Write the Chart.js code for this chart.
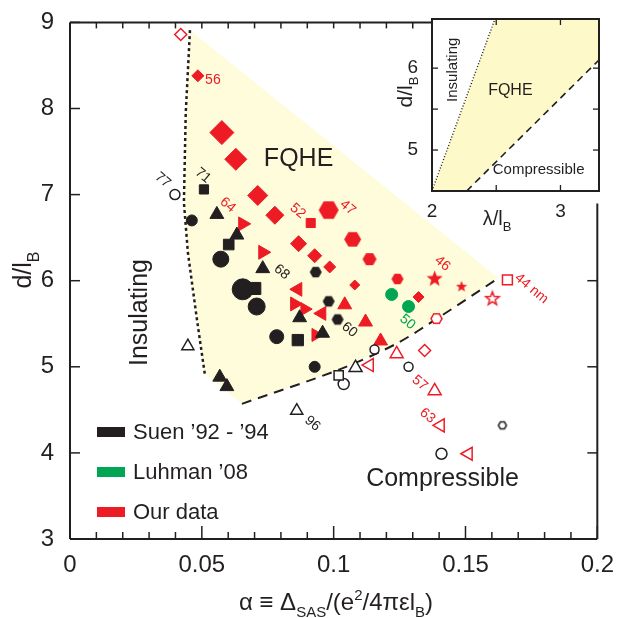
<!DOCTYPE html>
<html>
<head>
<meta charset="utf-8">
<script src="https://cdn.jsdelivr.net/npm/chart.js@4.4.0/dist/chart.umd.min.js"></script>
<style>
  html, body { margin: 0; padding: 0; background: #fff; }
  #wrap { position: relative; width: 618px; height: 618px; }
  #mainChart { position: absolute; left: 0; top: 0; }
  #insetChart { position: absolute; left: 390px; top: 0; }
</style>
</head>
<body>
<div id="wrap">
  <canvas id="mainChart" width="618" height="618"></canvas>
  <canvas id="insetChart" width="228" height="240"></canvas>
</div>
<script>
const FONT = "'Liberation Sans', Arial, Helvetica, sans-serif";
const INK = '#231f20';
const RED = '#ed1c24';
const GREEN = '#00a651';

// ---- main panel: data ----
// Suen '92 - '94 (black)
const suenX = [0.0462, 0.0572, 0.0655, 0.0708, 0.0784, 0.0928,
               0.0508, 0.0602, 0.0701, 0.0864,
               0.0557, 0.0633, 0.0731, 0.0871, 0.0958, 0.0568, 0.0595,
               0.0932, 0.0981, 0.1015,
               0.0398, 0.1038, 0.1155, 0.1284, 0.1409,
               0.1640, 0.0447, 0.0860, 0.1083, 0.1019];
const suenY = [6.70, 6.25, 5.90, 5.70, 5.35, 5.00,
               7.06, 6.42, 5.91, 5.31,
               6.77, 6.53, 6.14, 5.57, 5.39, 4.88, 4.77,
               6.10, 5.76, 5.55,
               7.00, 4.80, 5.20, 5.00, 3.99,
               4.32, 5.24, 4.49, 4.99, 4.90];

// Luhman '08 (green)
const luhmanX = [0.1220, 0.1284];
const luhmanY = [5.84, 5.70];

// Our data (red)
const oursX = [0.0420, 0.0485, 0.0576, 0.0629, 0.0712, 0.0777, 0.0867, 0.0928, 0.0985, 0.1080, 0.1322,
               0.0913,
               0.0981, 0.1072, 0.1136, 0.1242,
               0.1383, 0.1485,
               0.0655, 0.0731, 0.0852, 0.0890, 0.0932,
               0.0864, 0.0955,
               0.1042, 0.1121, 0.1178,
               0.1345, 0.1239, 0.1136, 0.1383, 0.1405, 0.1511, 0.1602, 0.1659, 0.1390];
const oursY = [8.86, 8.38, 7.72, 7.41, 6.99, 6.76, 6.43, 6.29, 6.16, 5.95, 5.81,
               6.67,
               6.82, 6.48, 6.25, 6.02,
               6.02, 5.93,
               6.66, 6.33, 5.73, 5.67, 5.37,
               5.90, 5.62,
               5.72, 5.52, 5.30,
               5.19, 5.15, 5.02, 4.72, 4.32, 3.99, 5.79, 6.01, 5.56];

// phase boundaries
const insulatingX = [0.0455, 0.0439, 0.0432, 0.0447, 0.0481, 0.0511];
const insulatingY = [8.91, 7.95, 6.91, 6.33, 5.56, 4.92];
const compressibleX = [0.0652, 0.1023, 0.1239, 0.1402, 0.1625];
const compressibleY = [4.57, 4.97, 5.27, 5.58, 6.03];

// sample thickness tags
const tagText = ['56', '77', '71', '64', '52', '47', '68', '60', '46', '50', '44 nm', '57', '63', '96'];
const tagX = [0.0542, 0.0352, 0.0504, 0.0598, 0.0864, 0.1053, 0.0803, 0.1060, 0.1413, 0.1280, 0.1750, 0.1326, 0.1356, 0.0920];
const tagY = [8.33, 7.17, 7.22, 6.88, 6.81, 6.85, 6.10, 5.43, 6.20, 5.52, 5.91, 4.81, 4.43, 4.34];

// ---- inset: data ----
const insetXTicks = [2, 2.5, 3];
const insetYTicks = [5, 5.5, 6];
const insetDottedX = [2.0, 2.49];
const insetDottedY = [4.5, 6.6];
const insetDashedX = [2.27, 3.3];
const insetDashedY = [4.5, 6.1];

// ---- marker styles (shape, radius, open) ----
const suenShape = ['circle', 'circle', 'circle', 'circle', 'circle', 'circle',
                   'square', 'square', 'square', 'square',
                   'triangle', 'triangle', 'triangle', 'triangle', 'triangle', 'triangle', 'triangle',
                   'hexagon', 'hexagon', 'hexagon',
                   'circle', 'circle', 'circle', 'circle', 'circle',
                   'hexagon', 'triangle', 'triangle', 'triangle', 'square'];
const suenSize = [5.5, 8, 10.5, 8.5, 7, 5.5, 6.5, 7.5, 8.5, 8,
                  8, 8, 8, 8, 8, 8, 8, 6, 6, 6,
                  5, 5.5, 4.5, 4.5, 5.5, 5, 7, 7, 7.5, 6.5];
const suenOpen = suenShape.map((s, i) => i >= 20);

const luhmanShape = ['circle', 'circle'];
const luhmanSize = [6, 6];
const luhmanOpen = [false, false];

const oursShape = ['diamond', 'diamond', 'diamond', 'diamond', 'diamond', 'diamond', 'diamond', 'diamond', 'diamond', 'diamond', 'diamond',
                   'square',
                   'hexagon', 'hexagon', 'hexagon', 'hexagon',
                   'star', 'star',
                   'triRight', 'triRight', 'triRight', 'triRight', 'triRight',
                   'triLeft', 'triLeft',
                   'triangle', 'triangle', 'triangle',
                   'diamond', 'triangle', 'triLeft', 'triangle', 'triLeft', 'triLeft', 'star', 'square', 'hexagon'];
const oursSize = [6, 6, 12, 11, 10, 9, 8, 7, 6, 5, 5.5,
                  6.4,
                  10, 8.5, 7, 6,
                  8.5, 6,
                  8, 8, 8, 7.5, 7.5,
                  8, 8,
                  8, 8, 8,
                  6, 7.5, 7.5, 7.5, 7.5, 7.5, 8, 7, 6.5];
const oursOpen = oursShape.map((s, i) => i === 0 || i >= 28);

function makeIcon(shape, r, color, open) {
  const s = Math.ceil(2 * r + 4);
  const c = document.createElement('canvas');
  c.width = s; c.height = s;
  const g = c.getContext('2d');
  g.translate(s / 2, s / 2);
  const rr = open ? r - 1 : r;
  g.beginPath();
  if (shape === 'hexagon') {
    for (let i = 0; i < 6; i++) {
      const a = i * Math.PI / 3;
      g.lineTo(rr * Math.cos(a), rr * Math.sin(a));
    }
  } else {
    for (let i = 0; i < 10; i++) {
      const a = -Math.PI / 2 + i * Math.PI / 5;
      const q = i % 2 ? rr * 0.42 : rr;
      g.lineTo(q * Math.cos(a), q * Math.sin(a));
    }
  }
  g.closePath();
  if (open) {
    g.fillStyle = '#fff'; g.fill();
    g.lineWidth = 1.5; g.strokeStyle = color; g.stroke();
  } else {
    g.fillStyle = color; g.fill();
  }
  return c;
}

function markerStyle(shape, r, color, open) {
  if (shape === 'hexagon' || shape === 'star') return makeIcon(shape, r, color, open);
  return { circle: 'circle', square: 'rect', diamond: 'rectRot',
           triangle: 'triangle', triRight: 'triangle', triLeft: 'triangle' }[shape];
}

function seriesDataset(label, xs, ys, shapes, sizes, opens, color, order) {
  return {
    label,
    data: xs.map((x, i) => ({ x, y: ys[i] })),
    pointStyle: shapes.map((s, i) => markerStyle(s, sizes[i], color, opens[i])),
    pointRadius: sizes,
    pointRotation: shapes.map(s => s === 'triRight' ? 90 : s === 'triLeft' ? -90 : 0),
    pointBackgroundColor: opens.map(o => o ? '#fff' : color),
    pointBorderColor: color,
    pointBorderWidth: opens.map(o => o ? 1.5 : 1),
    showLine: false,
    order
  };
}

function pts(xs, ys) { return xs.map((x, i) => ({ x, y: ys[i] })); }

function line(ctx, x1, y1, x2, y2) {
  ctx.beginPath(); ctx.moveTo(x1, y1); ctx.lineTo(x2, y2); ctx.stroke();
}

// text with sub/superscripts: parts = [[text, 0 normal | 1 sub | 2 sup], ...]
function richText(ctx, parts, cx, cy, size) {
  const fonts = parts.map(p => (p[1] ? Math.round(size * 0.64) : size) + 'px ' + FONT);
  let w = 0;
  parts.forEach((p, i) => { ctx.font = fonts[i]; w += ctx.measureText(p[0]).width; });
  let xx = cx - w / 2;
  ctx.textAlign = 'left';
  ctx.textBaseline = 'alphabetic';
  parts.forEach((p, i) => {
    ctx.font = fonts[i];
    const dy = p[1] === 1 ? size * 0.3 : p[1] === 2 ? -size * 0.4 : 0;
    ctx.fillText(p[0], xx, cy + size * 0.36 + dy);
    xx += ctx.measureText(p[0]).width;
  });
}

const tagColor = t => ['77', '71', '68', '60', '96'].includes(t) ? INK : t === '50' ? GREEN : RED;

const mainDecor = {
  id: 'mainDecor',
  afterDraw(chart) {
    const { ctx, chartArea: a, scales: { x, y } } = chart;
    ctx.save();
    ctx.strokeStyle = INK;
    ctx.lineWidth = 2;
    line(ctx, a.left, a.top, a.right, a.top);
    line(ctx, a.left, a.top, a.left, a.bottom);
    line(ctx, a.left, a.bottom, a.right, a.bottom);
    line(ctx, a.right, a.top + 181, a.right, a.bottom);

    ctx.lineWidth = 1.5;
    x.ticks.forEach(t => {
      const px = x.getPixelForValue(t.value);
      const major = Math.round(t.value * 100) % 5 === 0;
      line(ctx, px, a.bottom, px, a.bottom - (major ? 13 : 7));
      line(ctx, px, a.top, px, a.top + 6);
    });
    y.ticks.forEach(t => {
      const py = y.getPixelForValue(t.value);
      line(ctx, a.left, py, a.left + 10, py);
      if (t.value > 3 && t.value <= 6) line(ctx, a.right, py, a.right - 10, py);
    });

    // region names
    ctx.fillStyle = INK;
    ctx.textAlign = 'center';
    ctx.textBaseline = 'middle';
    ctx.font = '25px ' + FONT;
    ctx.fillText('FQHE', x.getPixelForValue(0.0867), y.getPixelForValue(7.41));
    ctx.fillText('Compressible', x.getPixelForValue(0.1413), y.getPixelForValue(3.70));
    ctx.save();
    ctx.translate(x.getPixelForValue(0.0265), y.getPixelForValue(5.63));
    ctx.rotate(-Math.PI / 2);
    ctx.fillText('Insulating', 0, 0);
    ctx.restore();

    // thickness tags
    ctx.font = '14px ' + FONT;
    tagText.forEach((t, i) => {
      ctx.save();
      ctx.translate(x.getPixelForValue(tagX[i]), y.getPixelForValue(tagY[i]));
      if (t !== '56') ctx.rotate(40 * Math.PI / 180);
      ctx.fillStyle = tagColor(t);
      ctx.fillText(t, 0, 0);
      ctx.restore();
    });

    // legend
    const legend = [['Suen \u201992 - \u201994', INK], ['Luhman \u201908', GREEN], ['Our data', RED]];
    ctx.font = '22px ' + FONT;
    ctx.textAlign = 'left';
    legend.forEach((l, i) => {
      const cy = 432 + i * 40;
      ctx.fillStyle = l[1];
      ctx.fillRect(97, cy - 5, 28, 10);
      ctx.fillStyle = INK;
      ctx.fillText(l[0], 133, cy + 1);
    });

    // axis titles
    ctx.fillStyle = INK;
    richText(ctx, [['\u03b1 \u2261 \u0394', 0], ['SAS', 1], ['/(e', 0], ['2', 2], ['/4\u03c0\u03b5l', 0], ['B', 1], [')', 0]], 336, 601, 24);
    ctx.save();
    ctx.translate(22, 270);
    ctx.rotate(-Math.PI / 2);
    richText(ctx, [['d/l', 0], ['B', 1]], 0, 0, 25);
    ctx.restore();
    ctx.restore();
  }
};

const fqheX = insulatingX.concat(compressibleX);
const fqheY = insulatingY.concat(compressibleY);

new Chart(document.getElementById('mainChart'), {
  type: 'scatter',
  data: {
    datasets: [
      seriesDataset('Luhman \u201908', luhmanX, luhmanY, luhmanShape, luhmanSize, luhmanOpen, GREEN, 0),
      seriesDataset('Suen \u201992 - \u201994', suenX, suenY, suenShape, suenSize, suenOpen, INK, 1),
      seriesDataset('Our data', oursX, oursY, oursShape, oursSize, oursOpen, RED, 2),
      { data: pts(insulatingX, insulatingY), showLine: true, borderColor: INK, borderWidth: 2.5,
        borderDash: [3, 3], pointRadius: 0, fill: false, order: 5 },
      { data: pts(compressibleX, compressibleY), showLine: true, borderColor: INK, borderWidth: 2,
        borderDash: [10, 7], tension: 0.3, pointRadius: 0, fill: false, order: 5 },
      { data: pts(fqheX, fqheY), showLine: true, borderColor: 'rgba(0,0,0,0)', borderWidth: 1,
        backgroundColor: '#fefcdb', fill: 'shape', pointRadius: 0, order: 10 }
    ]
  },
  options: {
    responsive: false,
    animation: false,
    events: [],
    layout: { padding: { top: 19, right: 19, left: 0, bottom: 0 } },
    plugins: { legend: { display: false }, tooltip: { enabled: false } },
    scales: {
      x: {
        type: 'linear', min: 0, max: 0.2,
        afterFit: s => { s.height = 79; },
        grid: { display: false }, border: { display: false },
        ticks: {
          stepSize: 0.01, autoSkip: false, maxRotation: 0, padding: 4,
          font: { size: 24, family: FONT }, color: INK,
          callback: v => { const r = Math.round(v * 100); return r % 5 === 0 ? String(r / 100) : ''; }
        }
      },
      y: {
        type: 'linear', min: 3, max: 9,
        afterFit: s => { s.width = 70; },
        grid: { display: false }, border: { display: false },
        ticks: { stepSize: 1, padding: 8, font: { size: 24, family: FONT }, color: INK }
      }
    }
  },
  plugins: [mainDecor]
});

// ---- inset ----
const insetDecor = {
  id: 'insetDecor',
  beforeDraw(chart) {
    const { ctx, chartArea: a } = chart;
    ctx.save();
    ctx.fillStyle = '#fff';
    ctx.fillRect(a.left, a.top, a.right - a.left, a.bottom - a.top);
    ctx.restore();
  },
  afterDraw(chart) {
    const { ctx, chartArea: a, scales: { x, y } } = chart;
    ctx.save();
    ctx.strokeStyle = INK;
    ctx.lineWidth = 2;
    ctx.strokeRect(a.left, a.top, a.right - a.left, a.bottom - a.top);
    ctx.lineWidth = 1.3;
    x.ticks.forEach(t => {
      const px = x.getPixelForValue(t.value);
      line(ctx, px, a.bottom, px, a.bottom - 6);
      line(ctx, px, a.top, px, a.top + 6);
    });
    y.ticks.forEach(t => {
      const py = y.getPixelForValue(t.value);
      line(ctx, a.left, py, a.left + 6, py);
      line(ctx, a.right, py, a.right - 6, py);
    });

    ctx.fillStyle = INK;
    ctx.textAlign = 'center';
    ctx.textBaseline = 'middle';
    ctx.font = '16px ' + FONT;
    ctx.fillText('FQHE', x.getPixelForValue(2.61), y.getPixelForValue(5.73));
    ctx.font = '15px ' + FONT;
    ctx.fillText('Compressible', x.getPixelForValue(2.83), y.getPixelForValue(4.76));
    ctx.save();
    ctx.translate(x.getPixelForValue(2.16), y.getPixelForValue(5.98));
    ctx.rotate(-Math.PI / 2);
    ctx.fillText('Insulating', 0, 0);
    ctx.restore();

    richText(ctx, [['\u03bb/l', 0], ['B', 1]], 107, 218, 20);
    ctx.save();
    ctx.translate(14, 92);
    ctx.rotate(-Math.PI / 2);
    richText(ctx, [['d/l', 0], ['B', 1]], 0, 0, 21);
    ctx.restore();
    ctx.restore();
  }
};

const insetShadeX = [insetDottedX[0], insetDottedX[1], insetDashedX[1], insetDashedX[1], insetDashedX[0]];
const insetShadeY = [insetDottedY[0], insetDottedY[1], insetDottedY[1], insetDashedY[1], insetDashedY[0]];

const wholeLabel = v => Math.abs(v - Math.round(v)) < 1e-6 ? String(Math.round(v)) : '';

new Chart(document.getElementById('insetChart'), {
  type: 'scatter',
  data: {
    datasets: [
      { data: pts(insetDottedX, insetDottedY), showLine: true, borderColor: INK, borderWidth: 1.4,
        borderDash: [1, 2], pointRadius: 0, fill: false, order: 1 },
      { data: pts(insetDashedX, insetDashedY), showLine: true, borderColor: INK, borderWidth: 1.6,
        borderDash: [7, 5], pointRadius: 0, fill: false, order: 1 },
      { data: pts(insetShadeX, insetShadeY), showLine: true, borderColor: 'rgba(0,0,0,0)', borderWidth: 1,
        backgroundColor: '#fdf9c8', fill: 'shape', pointRadius: 0, order: 5 }
    ]
  },
  options: {
    responsive: false,
    animation: false,
    events: [],
    layout: { padding: { top: 19, right: 19, left: 0, bottom: 0 } },
    plugins: { legend: { display: false }, tooltip: { enabled: false } },
    scales: {
      x: {
        type: 'linear', min: 2, max: 3.3,
        afterFit: s => { s.height = 49; },
        afterBuildTicks: s => { s.ticks = insetXTicks.map(v => ({ value: v })); },
        grid: { display: false }, border: { display: false },
        ticks: {
          autoSkip: false, maxRotation: 0, padding: 1,
          font: { size: 19, family: FONT }, color: INK,
          callback: wholeLabel
        }
      },
      y: {
        type: 'linear', min: 4.5, max: 6.6,
        afterFit: s => { s.width = 42; },
        afterBuildTicks: s => { s.ticks = insetYTicks.map(v => ({ value: v })); },
        grid: { display: false }, border: { display: false },
        ticks: {
          autoSkip: false, padding: 6,
          font: { size: 19, family: FONT }, color: INK,
          callback: wholeLabel
        }
      }
    }
  },
  plugins: [insetDecor]
});
</script>
</body>
</html>
